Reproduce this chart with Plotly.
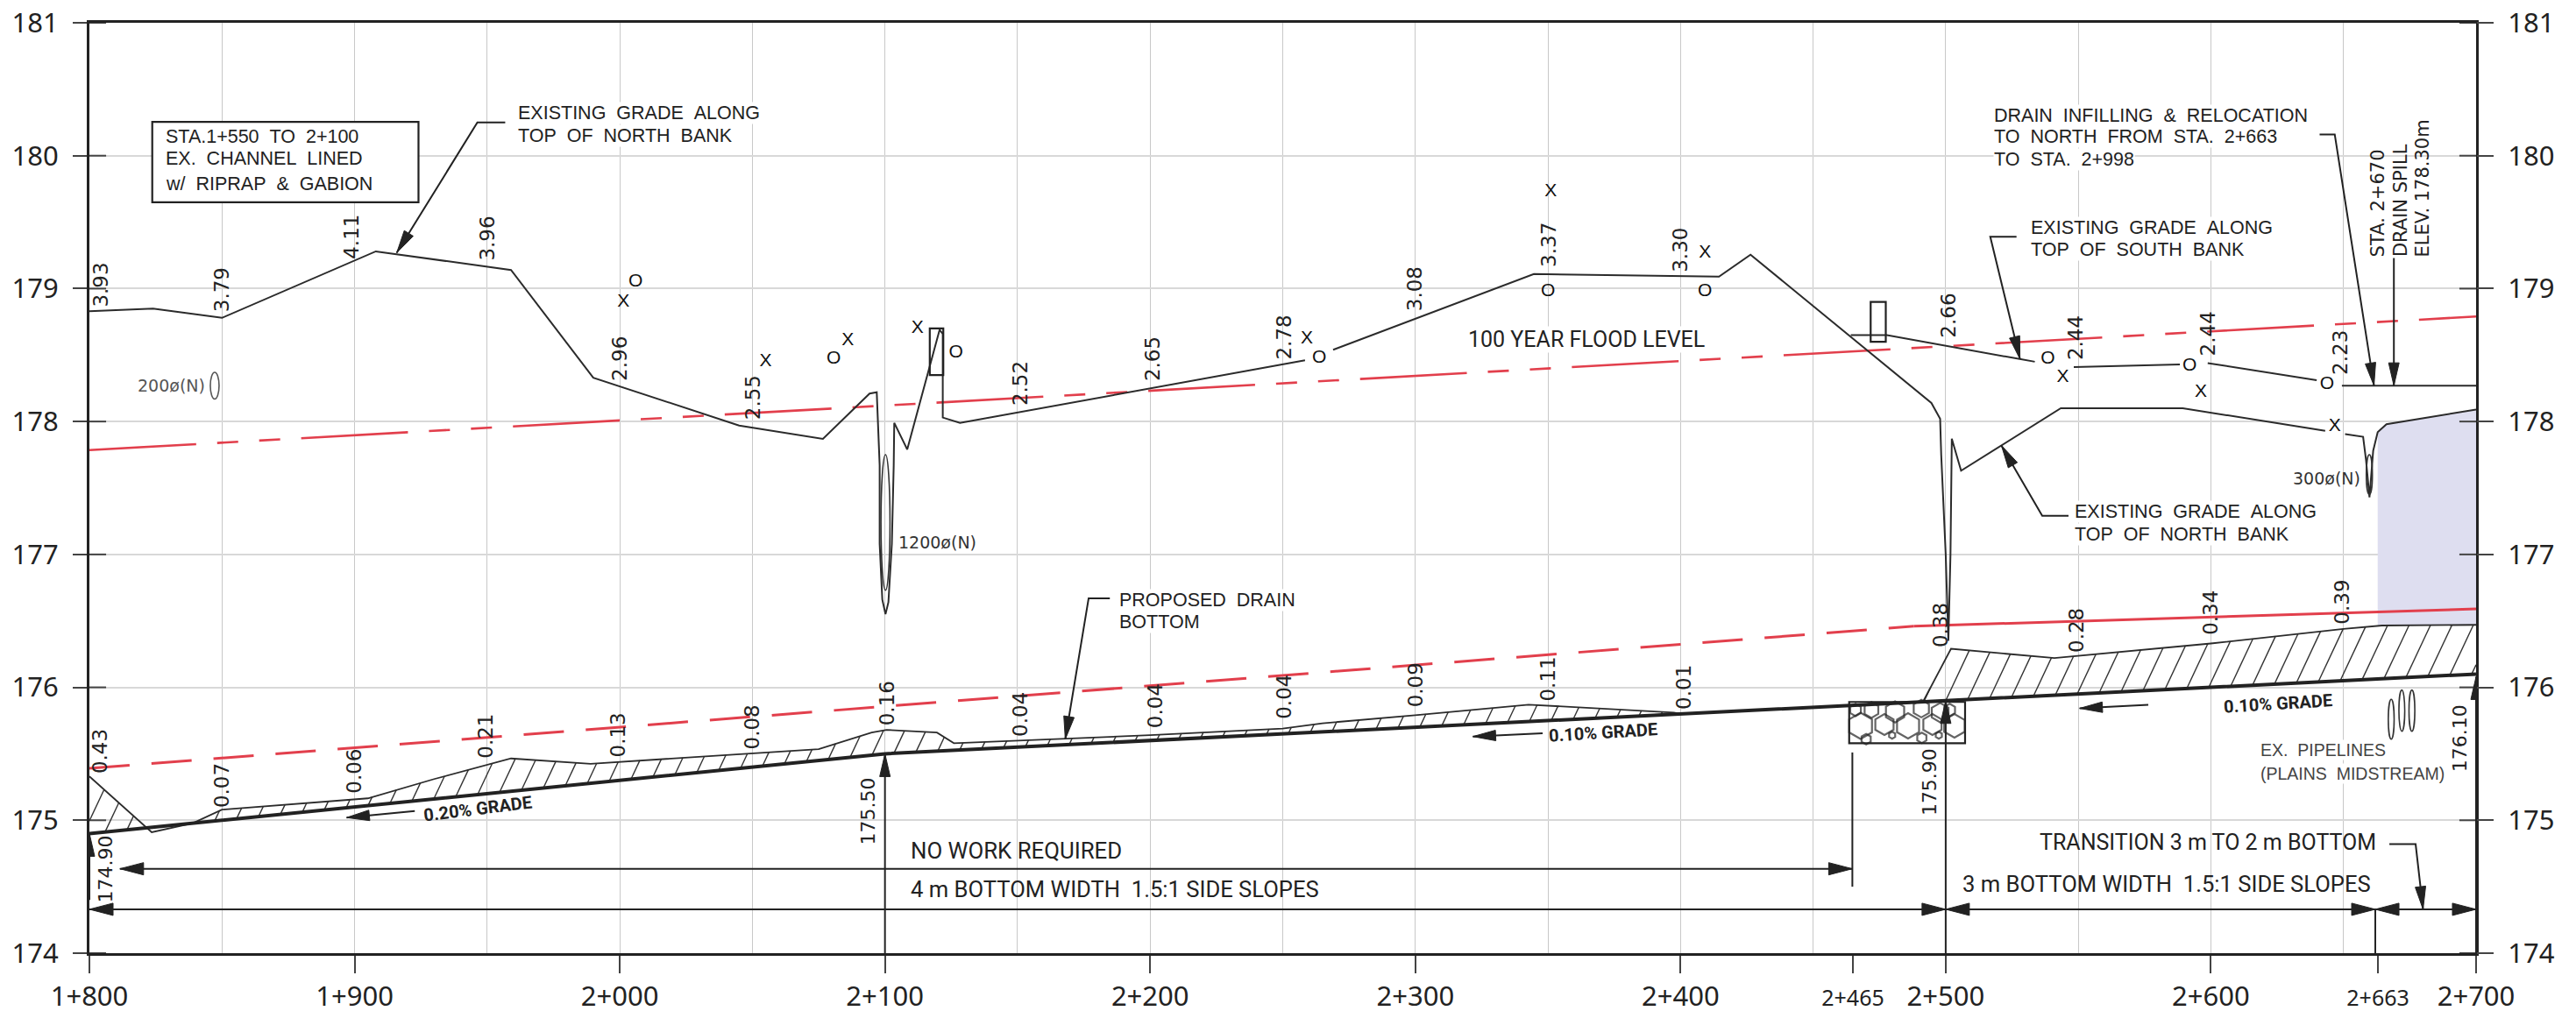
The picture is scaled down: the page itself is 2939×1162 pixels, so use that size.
import numpy as np
import plotly.graph_objects as go

# ---------- data ----------
station_ticks = [1800, 1900, 2000, 2100, 2200, 2300, 2400, 2465, 2500, 2600, 2663, 2700]
station_labels = ["1+800", "1+900", "2+000", "2+100", "2+200", "2+300", "2+400",
                  "2+465", "2+500", "2+600", "2+663", "2+700"]
elev_ticks = [174, 175, 176, 177, 178, 179, 180, 181]

north_st = [1800, 1824, 1850, 1908, 1959, 1990, 2045, 2076.6, 2094.2, 2096.9, 2098, 2098, 2099, 2100.2, 2101.3,
            2102.6, 2103.3, 2103.5, 2108.4, 2120.6, 2121.8, 2121.8, 2128.3, 2258.4, None, 2269, 2344.7, 2414.5,
            2426.4, 2494.6, 2497.9, 2498.3, 2500, 2501, 2501.8, 2502.3, 2505.8, 2543.4, 2589.4, 2643.1, None,
            2650.6, 2657.4, 2658.5, 2659.8, 2661.2, 2662.9, 2666.2, 2700]
north_el = [178.83, 178.85, 178.78, 179.28, 179.14, 178.33, 177.97, 177.87, 178.21, 178.22, 177.67, 177.08, 176.66,
            176.55, 176.64, 177.08, 177.67, 177.99, 177.79, 178.69, 178.66, 178.03, 177.99, 178.46, None, 178.54,
            179.11, 179.09, 179.255, 178.14, 178.02, 177.75, 177.0, 176.35, 177.0, 177.87, 177.63, 178.10, 178.10,
            177.93, None, 177.905, 177.885, 177.71, 177.43, 177.78, 177.92, 177.98, 178.09]

south_st = [2464.2, 2477.8, 2527.9, 2533.6, None, 2548.3, 2588.3, None, 2598.8, 2639.9, None, 2649.4, 2700]
south_el = [178.65, 178.65, 178.47, 178.45, None, 178.41, 178.43, None, 178.44, 178.31, None, 178.27, 178.27]

flood_st = [1800, 2700]
flood_el = [177.785, 178.79]
lower_flood_dash_st = [1800, 2488]
lower_flood_dash_el = [175.39, 176.46]
lower_flood_solid_st = [2488, 2700]
lower_flood_solid_el = [176.46, 176.59]

grade_st = [1800, 2100, 2500, 2700]
grade_el = [174.90, 175.50, 175.90, 176.10]

ground_st = [1800, 1821, 1823.5, 1839, 1850, 1905, 1930, 1959, 1989, 2075, 2095, 2100.6, 2119.6, 2126, 2151, 2200,
             2250, 2265, 2300, 2342.7, 2397.5, 2400, 2491.4, 2502, 2541, 2600, 2650, 2664.5, 2700]
ground_el = [175.33, 174.95, 174.91, 174.978, 175.08, 175.165, 175.31, 175.465, 175.425, 175.535, 175.66, 175.68,
             175.66, 175.58, 175.60, 175.64, 175.69, 175.73, 175.79, 175.87, 175.81, 175.80, 175.89, 176.29, 176.22,
             176.33, 176.44, 176.465, 176.47]

shade_st = [2662.9, 2666.2, 2700, 2700, 2664.5, 2662.9]
shade_el = [177.92, 177.98, 178.09, 176.47, 176.465, 176.46]

x_st = [2001.4, 2055, 2086, 2112.3, 2259.1, 2351.1, 2409.2, 2544.2, 2596.2, 2646.7]
x_el = [178.90, 178.45, 178.61, 178.70, 178.62, 179.73, 179.27, 178.33, 178.22, 177.96]
o_st = [2006, 2080.7, 2126.8, 2263.8, 2350, 2409.2, 2538.5, 2592, 2643.8]
o_el = [179.05, 178.47, 178.52, 178.475, 178.98, 178.98, 178.47, 178.42, 178.28]

bank_depth_text = ["3.93", "3.79", "4.11", "3.96", "2.96", "2.55", "2.52", "2.65", "2.78", "3.08", "3.37", "3.30",
                   "2.66", "2.44", "2.44", "2.23"]
bank_depth_st = [1804.2, 1850, 1899, 1950, 2000, 2050, 2151, 2201, 2250.5, 2300, 2350.5, 2400, 2501, 2548.8, 2599, 2649]
bank_depth_el = [179.03, 178.99, 179.39, 179.38, 178.47, 178.18, 178.29, 178.47, 178.63, 179.0, 179.33, 179.29,
                 178.80, 178.63, 178.66, 178.52]
cut_text = ["0.43", "0.07", "0.06", "0.21", "0.13", "0.08", "0.16", "0.04", "0.04", "0.04", "0.09", "0.11", "0.01",
            "0.38", "0.28", "0.34", "0.39"]
cut_st = [1804.2, 1850, 1900, 1949.4, 1999.4, 2050, 2100.6, 2151, 2201.7, 2250.7, 2300, 2350, 2401, 2498, 2549.5,
          2599.6, 2649.5]
cut_el = [175.52, 175.26, 175.37, 175.63, 175.64, 175.70, 175.88, 175.80, 175.86, 175.93, 176.02, 176.06, 176.0,
          176.47, 176.43, 176.56, 176.64]
invert_text = ["174.90", "175.50", "175.90", "176.10"]
invert_st = [1806, 2093.8, 2493.7, 2693.7]
invert_el = [174.63, 175.07, 175.29, 175.62]

stone_st = [2467.9, 2476.9, 2485.8, 2495, 2503.3, 2480.9, 2490.8, 2497.9, 2472, 2466, 2501.5, 2479.8, 2497.4, 2470, 2491]
stone_el = [175.71, 175.72, 175.71, 175.72, 175.71, 175.815, 175.84, 175.81, 175.83, 175.83, 175.83, 175.64, 175.64,
            175.61, 175.62]
stone_px = [30, 24, 29, 24, 27, 24, 20, 22, 18, 14, 14, 8, 8, 12, 12]

# ---------- scale of the page, used to shape arrowheads ----------
L, R, T, B = 102, 114, 26, 74
W, H = 2939, 1162
PX_X = (W - L - R) / 900.0
PX_Y = (H - T - B) / 7.0
INK = "#2b2b2b"
RED = "#e23f4c"


def head(tipx, tipy, fromx, fromy, length=26, half=6):
    dx = (fromx - tipx) * PX_X
    dy = (fromy - tipy) * PX_Y
    n = (dx * dx + dy * dy) ** 0.5
    ux, uy = dx / n, dy / n
    bx, by = ux * length, uy * length
    px, py = -uy * half, ux * half
    xs = [tipx, tipx + (bx + px) / PX_X, tipx + (bx - px) / PX_X, tipx, None]
    ys = [tipy, tipy + (by + py) / PX_Y, tipy + (by - py) / PX_Y, tipy, None]
    return xs, ys


# leader lines end in an arrowhead at their last point
leaders = [
    ([1956.8, 1946.3, 1915.9], [180.25, 180.25, 179.27]),
    ([2184.8, 2176.8, 2168], [176.67, 176.67, 175.61]),
    ([2641, 2646.7, 2661.5], [180.16, 180.16, 178.27]),
    ([2669, 2669], [179.23, 178.27]),
    ([2526.7, 2516.8, 2528], [179.39, 179.39, 178.47]),
    ([2546.3, 2536.4, 2521], [177.29, 177.29, 177.82]),
    ([2667.3, 2677.2, 2680], [174.82, 174.82, 174.33]),
    ([1922.7, 1897], [175.07, 175.02]),
    ([2348, 2321.7], [175.654, 175.63]),
    ([2576.4, 2550.5], [175.868, 175.842]),
    ([1800, 1800], [174.4, 174.90]),
    ([2100, 2100], [174, 175.50]),
    ([2500, 2500], [174, 175.90]),
    ([2700, 2700], [174, 176.08]),
]
# dimension lines carry an arrowhead at each end
dimensions = [
    (1811.5, 2464.8, 174.635),
    (1800, 2500, 174.33),
    (2500, 2662, 174.33),
    (2662, 2700, 174.33),
]
plain_lines = [
    ([2464.8, 2464.8], [175.51, 174.5]),
    ([2662, 2662], [174.33, 174]),
]

line_x, line_y, head_x, head_y = [], [], [], []
for xs, ys in leaders:
    line_x += list(xs) + [None]
    line_y += list(ys) + [None]
    a, b = head(xs[-1], ys[-1], xs[-2], ys[-2])
    head_x += a
    head_y += b
for x0, x1, y in dimensions:
    line_x += [x0, x1, None]
    line_y += [y, y, None]
    for tip, other in ((x0, x1), (x1, x0)):
        a, b = head(tip, y, other, y, length=27, half=7)
        head_x += a
        head_y += b
for xs, ys in plain_lines:
    line_x += list(xs) + [None]
    line_y += list(ys) + [None]

# hatching between proposed grade and existing ground
hatch_x, hatch_y = [], []
step = 25 / PX_X
slope = 2.13 * PX_Y ** -1 * PX_X
for s in np.arange(2500 - 90 * step, 2700, step):
    start = max(s, 1800.0)
    g = np.interp(s, grade_st, grade_el) if s >= 1800 else 174.9 + 0.002 * (s - 1800)
    y0 = g + slope * (start - s)
    xs = np.linspace(start, min(start + 45, 2700), 901)
    ys = y0 + slope * (xs - start)
    top = np.interp(xs, ground_st, ground_el)
    above = np.nonzero(ys >= top)[0]
    if len(above) and above[0] == 0:
        continue
    i = above[0] if len(above) else -1
    hatch_x += [start, float(xs[i]), None]
    hatch_y += [y0, float(ys[i]), None]

fig = go.Figure()


def line(x, y, color=INK, width=2, dash=None, **kw):
    fig.add_trace(go.Scatter(x=x, y=y, mode="lines", showlegend=False, hoverinfo="skip",
                             line=dict(color=color, width=width, dash=dash), connectgaps=False, **kw))


# shaded pocket beside the spill
fig.add_trace(go.Scatter(x=shade_st, y=shade_el, mode="lines", fill="toself", fillcolor="#dedef0",
                         line=dict(width=0), showlegend=False, hoverinfo="skip"))
# inner tick stubs on both vertical borders
stub_x, stub_y = [], []
for e in elev_ticks:
    stub_x += [1800, 1806.3, None, 2693.7, 2700, None]
    stub_y += [e, e, None, e, e, None]
line(stub_x, stub_y, color="#444444", width=2)

line(flood_st, flood_el, color=RED, width=2.6, dash="122px,24px,24px,24px,24px,24px")
line(lower_flood_dash_st, lower_flood_dash_el, color=RED, width=3, dash="46px,25px")
line(lower_flood_solid_st, lower_flood_solid_el, color=RED, width=3)
line(hatch_x, hatch_y, color="#333333", width=1.4)
line(ground_st[:22], ground_el[:22], width=1.8)
line(ground_st[22:], ground_el[22:], width=1.8)
line(north_st, north_el, width=2)
line(south_st, south_el, width=2)
line(grade_st, grade_el, color="#222222", width=4)
line(line_x, line_y, color="#222222", width=2)
fig.add_trace(go.Scatter(x=head_x, y=head_y, mode="lines", fill="toself", fillcolor="#222222",
                         line=dict(color="#222222", width=1), showlegend=False, hoverinfo="skip"))

# stones of the riprap plug
fig.add_trace(go.Scatter(x=stone_st, y=stone_el, mode="markers", showlegend=False, hoverinfo="skip",
                         marker=dict(symbol="hexagon-open", size=stone_px, color="#222222", line=dict(width=2.2))))
# survey marks
MARK_FONT = dict(family="Liberation Sans", size=21, color="#111111")
fig.add_trace(go.Scatter(x=x_st, y=x_el, mode="text", text=["X"] * len(x_st), showlegend=False, hoverinfo="skip",
                         textfont=MARK_FONT))
fig.add_trace(go.Scatter(x=o_st, y=o_el, mode="text", text=["O"] * len(o_st), showlegend=False, hoverinfo="skip",
                         textfont=MARK_FONT))
# invisible trace so the right-hand elevation axis is drawn
fig.add_trace(go.Scatter(x=[1800], y=[174], yaxis="y2", mode="lines", showlegend=False, hoverinfo="skip"))


def note(text, x, y, family="Liberation Sans", size=21.5, color="#222222", xanchor="left", yanchor="middle",
         angle=0, bg=None):
    fig.add_annotation(x=x, y=y, text=text, showarrow=False, xanchor=xanchor, yanchor=yanchor, textangle=angle,
                       font=dict(family=family, size=size, color=color), borderpad=0, bgcolor=bg)


def cad(text, x, y, **kw):
    # the drawing's lettering has wide word gaps
    note(text.replace(" ", "\u00a0\u00a0"), x, y, **kw)


for t, x, y in zip(bank_depth_text, bank_depth_st, bank_depth_el):
    note(t, x, y, family="DejaVu Sans", size=23, xanchor="center", angle=-90)
for t, x, y in zip(cut_text, cut_st, cut_el):
    note(t, x, y, family="DejaVu Sans", size=23, xanchor="center", angle=-90)
for t, x, y in zip(invert_text, invert_st, invert_el):
    note(t, x, y, family="DejaVu Sans", size=22, xanchor="center", angle=-90)

WHITE = "white"
cad("STA.1+550 TO 2+100", 1828.3, 180.14)
cad("EX. CHANNEL LINED", 1828.3, 179.98)
cad("w/ RIPRAP &amp; GABION", 1828.3, 179.79)
cad("EXISTING GRADE ALONG", 1961.4, 180.32, bg=WHITE)
cad("TOP OF NORTH BANK", 1961.4, 180.15, bg=WHITE)
cad("PROPOSED DRAIN", 2188, 176.654, bg=WHITE)
cad("BOTTOM", 2188, 176.49, bg=WHITE)
cad("DRAIN INFILLING &amp; RELOCATION", 2517.9, 180.30, bg=WHITE)
cad("TO NORTH FROM STA. 2+663", 2517.9, 180.14, bg=WHITE)
cad("TO STA. 2+998", 2517.9, 179.97, bg=WHITE)
cad("EXISTING GRADE ALONG", 2531.6, 179.46, bg=WHITE)
cad("TOP OF SOUTH BANK", 2531.6, 179.29, bg=WHITE)
cad("EXISTING GRADE ALONG", 2548.4, 177.32, bg=WHITE)
cad("TOP OF NORTH BANK", 2548.4, 177.15, bg=WHITE)
cad("EX. PIPELINES", 2618.5, 175.526, color="#444444", size=19.5, bg=WHITE)
note("(PLAINS\u00a0\u00a0MIDSTREAM)", 2618.5, 175.354, color="#444444", size=19.5, bg=WHITE)
note("STA. 2+670", 2663.1, 179.23, family="DejaVu Sans", size=21, xanchor="center", yanchor="bottom", angle=-90)
note("DRAIN SPILL", 2671.6, 179.23, family="DejaVu Sans", size=21, xanchor="center", yanchor="bottom", angle=-90)
note("ELEV. 178.30m", 2680, 179.23, family="DejaVu Sans", size=21, xanchor="center", yanchor="bottom", angle=-90)

BODY = "Roboto"
note("100 YEAR FLOOD LEVEL", 2319.6, 178.62, family=BODY, size=25, bg=WHITE)
note("NO WORK REQUIRED", 2109.5, 174.77, family=BODY, size=25.8)
note("4 m BOTTOM WIDTH\u00a0\u00a01.5:1 SIDE SLOPES", 2109.5, 174.48, family=BODY, size=25.6)
note("3 m BOTTOM WIDTH\u00a0\u00a01.5:1 SIDE SLOPES", 2505.9, 174.52, family=BODY, size=25.6)
note("TRANSITION 3 m TO 2 m BOTTOM", 2535.1, 174.835, family=BODY, size=25)
note("<b>0.20% GRADE</b>", 1946.5, 175.09, family=BODY, size=20, xanchor="center", angle=-7)
note("<b>0.10% GRADE</b>", 2370.7, 175.66, family=BODY, size=20, xanchor="center", angle=-3.5)
note("<b>0.10% GRADE</b>", 2625.2, 175.88, family=BODY, size=20, xanchor="center", angle=-3.5)
note("200ø(N)", 1844, 178.27, family="DejaVu Sans", size=19, color="#555555", xanchor="right")
note("1200ø(N)", 2104.6, 177.09, family="DejaVu Sans", size=19, color="#333333")
note("300ø(N)", 2656.6, 177.57, family="DejaVu Sans", size=19, color="#333333", xanchor="right")

shapes = []


def ellipse(x0, x1, y0, y1, color="#333333"):
    shapes.append(dict(type="circle", xref="x", yref="y", x0=x0, x1=x1, y0=y0, y1=y1,
                       line=dict(color=color, width=1.6)))


def box(x0, x1, y0, y1, fill=None, width=2.2):
    shapes.append(dict(type="rect", xref="x", yref="y", x0=x0, x1=x1, y0=y0, y1=y1, fillcolor=fill,
                       line=dict(color="#222222", width=width)))


ellipse(1845.6, 1848.9, 178.17, 178.37, color="#555555")
ellipse(2098.5, 2101.9, 176.73, 177.75)
ellipse(2658.6, 2660.9, 177.45, 177.75)
ellipse(2666.9, 2669.1, 175.61, 175.91)
ellipse(2670.9, 2673.1, 175.67, 175.98)
ellipse(2674.7, 2676.9, 175.67, 175.98)
box(1823.7, 1924.1, 179.65, 180.255, fill="white")
box(2116.9, 2122, 178.35, 178.70)
box(2471.7, 2477.4, 178.60, 178.90)
box(2463.6, 2507.3, 175.58, 175.89)

TICK_FONT = dict(family="Noto Sans", size=31, color="#222222")
ticktext = [f'<span style="font-size:25px">{t}</span>' if t in ("2+465", "2+663") else t for t in station_labels]
grid_v = list(range(1800, 2701, 50))

fig.update_layout(
    width=W, height=H, autosize=False, paper_bgcolor="white", plot_bgcolor="white", showlegend=False,
    margin=dict(l=L, r=R, t=T, b=B, pad=0, autoexpand=False),
    xaxis=dict(range=[1800, 2700], tickmode="array", tickvals=station_ticks, ticktext=ticktext, tickfont=TICK_FONT,
               ticks="outside", ticklen=20, tickwidth=2, tickcolor="#444444", showline=True, linecolor="#222222",
               linewidth=3, mirror=True, showgrid=False, zeroline=False,
               minor=dict(tickmode="array", tickvals=grid_v, showgrid=True, gridcolor="#c8c8c8", gridwidth=1.3,
                          ticks="")),
    yaxis=dict(range=[174, 181], tickmode="array", tickvals=elev_ticks, tickfont=TICK_FONT, ticks="outside",
               ticklen=16, tickwidth=2, tickcolor="#444444", showline=True, linecolor="#222222", linewidth=3,
               mirror=True, showgrid=True, gridcolor="#d8d8d8", gridwidth=2, zeroline=False, ticklabelstandoff=10),
    yaxis2=dict(range=[174, 181], overlaying="y", side="right", anchor="x", tickmode="array", tickvals=elev_ticks,
                tickfont=TICK_FONT, ticks="outside", ticklen=19, tickwidth=2, tickcolor="#444444", showgrid=False,
                showline=False, zeroline=False, ticklabelstandoff=10),
    shapes=shapes,
)

fig.write_html("out.html", post_script="document.body.style.margin='0';", config={"displayModeBar": False})
